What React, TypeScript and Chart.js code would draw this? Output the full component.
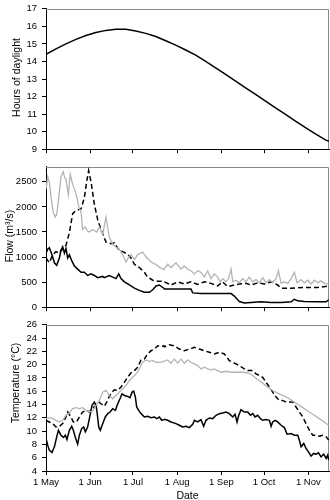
import React, { useEffect, useRef } from 'react';
import { Chart, registerables } from 'chart.js';
Chart.register(...registerables);

// ---- X axis (days since 1 May) ----
const monthTickDays = [0, 31, 61, 92, 123, 153, 184];
const monthTickLabels = ['1 May', '1 Jun', '1 Jul', '1 Aug', '1 Sep', '1 Oct', '1 Nov'];
const dayMax = 198.5;

// ---- Panel 1: hours of daylight ----
const daylightTicks = [9, 10, 11, 12, 13, 14, 15, 16, 17];
const daylightDays = [0, 7, 14, 21, 28, 35, 42, 49, 56, 63, 70, 77, 84, 91, 98, 105, 112, 119, 126, 133, 140, 147, 154, 161, 168, 175, 182, 189, 196, 198.5];
const daylightHours = [14.4, 14.72, 15.0, 15.26, 15.48, 15.65, 15.77, 15.83, 15.83, 15.73, 15.6, 15.42, 15.18, 14.93, 14.65, 14.36, 14.0, 13.64, 13.26, 12.88, 12.5, 12.12, 11.74, 11.36, 10.98, 10.6, 10.23, 9.87, 9.53, 9.45];

// ---- Panel 2: flow (m3/s) ----
const flowTicks = [0, 500, 1000, 1500, 2000, 2500];
const flowGrayDays = [0, 1.2, 2.3, 3.5, 5, 6.5, 7.5, 9, 10.5, 12, 13, 14, 15.7, 17, 18.7, 20.6, 22, 23, 24.6, 25.7, 27.6, 29, 30.4, 32.7, 35.6, 37.4, 39.8, 42.1, 43.5, 44.4, 46.8, 49, 51.5, 53.8, 56.1, 58, 59.6, 62, 64.3, 67.8, 70.2, 73.7, 77.2, 79.5, 82.6,
  85.3, 87.7, 91.2, 94.7, 97, 99.4, 101.7, 104.1, 106.4, 108.7, 111.1, 113.4, 115.7, 118.1, 120.4, 122.3, 123.9, 126.3, 128, 129.8, 131, 133.3, 135.6, 138, 140.3, 142.6, 145, 147.3, 149.7, 152, 154.3, 156.7, 159, 161.4, 163, 164.9, 167.2, 169.6, 171.9, 174.2, 176.1, 178.9, 181.2, 183.6, 185.9, 188.3, 190.6, 192.9, 195.3, 198.3];
const flowGrayValues = [2350, 2600, 2500, 2200, 1900, 1800, 1850, 2200, 2600, 2700, 2600, 2550, 2250, 2650, 2450, 2300, 2150, 2000, 1900, 1550, 1600, 1520, 1500, 1550, 1500, 1600, 1450, 1800, 1550, 1400, 1250, 1200, 1150, 1050, 900, 1000, 1050, 950, 1050, 1100, 1000, 900, 850, 800, 750,
  855, 791, 886, 760, 823, 760, 728, 665, 728, 696, 601, 728, 570, 665, 601, 506, 570, 506, 570, 760, 506, 538, 487, 570, 506, 601, 506, 551, 487, 589, 487, 551, 487, 570, 728, 475, 506, 475, 570, 696, 487, 551, 487, 538, 462, 538, 487, 525, 475, 462];
const flowDashDays = [0, 2.3, 4.7, 7, 9.4, 11.7, 14, 16.4, 18.7, 21.1, 24.6, 26.9, 28.5, 29.9, 31.6, 33.9, 36.3, 38.6, 42.1, 45.6, 48, 50.3, 53.8, 57.3, 59.6, 62, 65.5, 69, 71.3, 74.9, 77.2, 82.6,
  83, 87.7, 92.4, 97, 101.7, 106.4, 111.1, 115.7, 120.4, 123.9, 127.4, 132.1, 135.6, 140.3, 143.8, 148.5, 153.2, 157.9, 162.5, 164.9, 171.9, 181.2, 190.6, 198.3];
const flowDashValues = [981, 886, 1044, 1108, 1076, 1171, 1234, 1488, 1867, 1931, 1962, 2184, 2500, 2722, 2500, 2057, 1741, 1551, 1298, 1266, 1285, 1171, 1108, 1057, 981, 855, 791, 696, 601, 538, 519, 519,
  506, 443, 506, 462, 506, 456, 506, 475, 424, 506, 411, 443, 462, 475, 443, 487, 462, 506, 443, 380, 380, 392, 392, 424];
const flowBlackDays = [0, 1.2, 2.3, 4.2, 5.9, 7.5, 9.4, 10.5, 11.7, 12.9, 14, 15.2, 16.4, 18.2, 19.9, 22.2, 24.6, 26.9, 29.2, 31.6, 33.9, 36.3, 39.8, 40.9, 44.4, 46.8, 49.1, 51, 52.6, 55, 58.5, 62, 65.5, 69, 72.5, 74.9, 77.2, 79.5, 82.6,
  83, 101.7, 102.9, 108.7, 129.8, 132.1, 135.6, 139.1, 143.8, 150.8, 157.9, 164.9, 171.9, 174.2, 176.6, 181.2, 190.6, 196.5, 198.3];
const flowBlackValues = [1076, 1158, 1184, 1044, 886, 836, 981, 1139, 1203, 1076, 1171, 981, 1044, 918, 823, 760, 696, 696, 633, 665, 633, 589, 614, 589, 633, 601, 570, 665, 570, 506, 443, 380, 335, 298, 298, 348, 424, 443, 380,
  361, 361, 285, 272, 272, 222, 114, 82, 95, 108, 95, 95, 108, 158, 127, 114, 108, 108, 146];

// ---- Panel 3: temperature (°C) ----
const tempTicks = [4, 6, 8, 10, 12, 14, 16, 18, 20, 22, 24, 26];
const tempBlackDays = [0, 1.2, 2.3, 4.2, 5.9, 7.5, 8.7, 10.5, 12.2, 13.6, 14.7, 16.4, 18, 19.2, 20.6, 22.2, 23.4, 25, 26.4, 27.6, 29.2, 30.9, 32.3, 33.9, 35.1, 35.8, 37, 38.1, 39.8, 41.6, 43.3, 44.9, 46.8, 48.7, 50.3, 51.9, 53.3, 55, 57.3, 58.9, 60.4, 61.5, 62.7, 63.6, 65, 66.7, 69, 71.3, 73.7, 76, 77.7, 79.5, 81.2, 82.6,
  83, 85.3, 87.7, 91.2, 93.5, 95.9, 98.2, 100.5, 102.9, 104.1, 106.4, 108.7, 110.6, 112.2, 114.6, 116.9, 119.3, 121.6, 123.9, 126.3, 128.6, 131, 132.6, 134, 135.2, 136.8, 139.1, 141.5, 143.4, 145, 146.6, 148.5, 150.4, 152, 154.3, 156.7, 157.9, 159, 160.7, 162.5, 164.9, 167.2, 169.1, 171.9, 174.2, 176.6, 177.7, 178.9, 180.8, 182.4, 184.1, 185.9, 187.8, 189.4, 191.1, 192.9, 194.8, 196.5, 197.6, 198.3];
const tempBlackValues = [8.89, 7.89, 7.14, 6.79, 7.64, 9.14, 10.13, 9.39, 9.04, 9.39, 8.74, 10.13, 10.73, 10.13, 9.04, 8.04, 9.39, 10.38, 10.63, 9.89, 10.63, 12.38, 13.88, 14.37, 13.88, 12.88, 10.63, 10.13, 11.13, 12.13, 12.63, 12.88, 13.38, 13.13, 14.12, 14.87, 15.62, 15.37, 15.22, 15.02, 15.87, 16.02, 15.12, 13.63, 13.13, 12.63, 12.13, 12.23, 12.03, 12.13, 11.88, 12.13, 11.63, 11.73,
  11.78, 11.63, 11.38, 11.13, 10.88, 10.63, 10.73, 10.53, 11.03, 11.63, 11.38, 11.73, 10.73, 11.63, 11.98, 11.88, 12.38, 12.63, 12.73, 12.88, 12.63, 12.13, 12.53, 11.38, 12.38, 13.23, 12.88, 12.88, 12.38, 12.63, 12.13, 12.38, 11.88, 11.63, 11.73, 11.63, 10.73, 11.38, 11.63, 11.38, 10.88, 10.53, 9.54, 9.64, 9.39, 9.39, 8.64, 7.64, 8.14, 7.39, 6.89, 6.24, 6.64, 6.54, 6.74, 6.14, 6.54, 5.9, 6.39, 5.65];
const tempDashDays = [0, 2.3, 4.7, 7, 9.4, 11.7, 14, 15.2, 17.5, 19.2, 21.5, 23.4, 25.7, 28.1, 30.4, 32.3, 35.1, 37, 38.6, 40.9, 42.6, 44.4, 46.3, 48, 50.3, 52.6, 55, 57.3, 59.6, 62, 64.3, 66.7, 69, 71.3, 73.7, 76, 78.4, 80.7, 82.6,
  83, 86.5, 90, 93.5, 97, 100.5, 104.1, 107.6, 111.1, 114.6, 118.1, 121.6, 125.1, 128.6, 131, 133.3, 135.6, 139.1, 141.5, 145, 147.3, 149.7, 152, 154.3, 156.7, 159, 161.4, 163.7, 166, 168.4, 170.7, 173.1, 175.4, 177.7, 180.1, 182.4, 184.8, 187.1, 189.4, 191.8, 194.1, 196.5, 198.3];
const tempDashValues = [11.63, 11.38, 11.13, 10.63, 10.73, 11.13, 12.13, 12.88, 12.13, 11.38, 11.38, 12.13, 12.88, 13.13, 12.88, 13.38, 13.88, 14.37, 14.12, 13.73, 14.37, 15.22, 15.87, 16.22, 16.12, 16.62, 17.37, 18.11, 18.76, 19.11, 19.61, 20.71, 20.86, 21.61, 22.1, 22.35, 22.85, 22.7, 22.85,
  22.7, 23.0, 22.85, 22.35, 22.1, 22.35, 22.6, 22.35, 22.1, 21.86, 21.61, 21.86, 21.61, 20.61, 20.36, 20.11, 19.86, 19.36, 19.11, 19.11, 18.61, 18.36, 18.11, 17.37, 16.62, 15.87, 15.12, 14.62, 14.62, 14.37, 14.37, 14.37, 13.63, 12.88, 12.13, 11.13, 10.13, 9.39, 9.39, 9.24, 9.39, 9.14, 8.64];
const tempGrayDays = [0, 2.3, 4.7, 7, 9.4, 11.7, 14, 16.4, 18.7, 21.1, 23.4, 25.7, 28.1, 30.4, 32.7, 35.1, 37.4, 39.8, 42.1, 44.4, 46.8, 49.1, 51.5, 53.8, 56.1, 58.5, 60.8, 63.2, 65.5, 67.8, 70.2, 72.5, 74.9, 77.2, 79.5, 82.6,
  85.3, 87.7, 90, 92.4, 94.7, 97, 99.4, 101.7, 104.1, 106.4, 108.7, 111.1, 113.4, 115.7, 118.1, 120.4, 122.8, 126.3, 129.8, 134.5, 139.1, 142.6, 145, 148.5, 152, 155.5, 159, 162.5, 166, 169.6, 173.1, 176.6, 180.1, 183.6, 187.1, 190.6, 194.1, 198.3];
const tempGrayValues = [11.88, 12.03, 11.88, 11.63, 11.38, 11.63, 12.38, 12.73, 13.38, 13.53, 13.38, 13.53, 13.13, 12.88, 13.03, 13.88, 14.62, 15.87, 16.12, 15.37, 14.87, 15.37, 15.87, 16.37, 16.87, 17.62, 18.11, 18.61, 19.36, 20.36, 20.71, 20.51, 20.61, 20.36, 20.36, 20.51,
  20.71, 20.21, 20.86, 20.21, 20.86, 20.21, 20.71, 20.36, 20.11, 19.86, 19.36, 19.61, 19.36, 19.21, 19.36, 19.11, 18.86, 19.01, 18.86, 18.86, 18.86, 18.71, 18.36, 17.72, 17.22, 16.62, 16.12, 15.72, 15.37, 15.02, 14.52, 14.02, 13.53, 13.03, 12.53, 12.03, 11.53, 10.88];

const FONT = "'Liberation Sans', Arial, Helvetica, sans-serif";
const GRAY = '#b4b4b4';

const pts = (xs: number[], ys: number[]) => xs.map((x, i) => ({ x, y: ys[i] }));

const framePlugin = {
  id: 'frame',
  beforeDatasetsDraw(chart: any) {
    const { ctx, chartArea: a } = chart;
    ctx.save();
    ctx.strokeStyle = '#8a8a8a';
    ctx.lineWidth = 1;
    ctx.beginPath();
    ctx.moveTo(Math.round(a.left), Math.round(a.top) + 0.5);
    ctx.lineTo(Math.round(a.right) - 0.5, Math.round(a.top) + 0.5);
    ctx.lineTo(Math.round(a.right) - 0.5, Math.round(a.bottom));
    ctx.stroke();
    ctx.restore();
  },
};

// Draws the rotated y-axis title at a given centre position (canvas coordinates).
const makeYTitlePlugin = (text: string, cx: number, cy: number) => ({
  id: 'ytitle',
  afterDraw(chart: any) {
    const { ctx } = chart;
    ctx.save();
    ctx.translate(cx, cy);
    ctx.rotate(-Math.PI / 2);
    ctx.fillStyle = '#000';
    ctx.font = `10.5px ${FONT}`;
    ctx.textAlign = 'center';
    ctx.textBaseline = 'middle';
    ctx.fillText(text, 0, 0);
    ctx.restore();
  },
});

type PanelProps = {
  top: number;
  height: number;
  padTop: number;
  xHeight: number;
  showX: boolean;
  yTitle: string;
  titleX: number;
  titleY: number;
  yMin: number;
  yMax: number;
  yTicks: number[];
  datasets: any[];
};

function Panel(p: PanelProps) {
  const ref = useRef<HTMLCanvasElement>(null);
  useEffect(() => {
    if (!ref.current) return;
    const chart = new Chart(ref.current, {
      type: 'line',
      data: { datasets: p.datasets },
      options: {
        responsive: false,
        animation: false,
        layout: { padding: { top: p.padTop, right: 1, left: 0, bottom: 0 } },
        plugins: { legend: { display: false }, tooltip: { enabled: false } },
        elements: { point: { radius: 0 }, line: { tension: 0 } },
        scales: {
          x: {
            type: 'linear',
            min: 0,
            max: dayMax,
            afterBuildTicks: (s: any) => {
              s.ticks = monthTickDays.map((v) => ({ value: v }));
            },
            afterFit: (s: any) => {
              s.height = p.xHeight;
            },
            ticks: {
              display: p.showX,
              autoSkip: false,
              maxRotation: 0,
              padding: 2,
              color: '#000',
              font: { family: FONT, size: 9.5 },
              callback: (_v: any, i: number) => monthTickLabels[i],
            },
            grid: { display: true, drawOnChartArea: false, drawTicks: true, tickLength: 4, color: '#000' },
            border: { display: true, color: '#000', width: 1 },
            title: {
              display: p.showX,
              text: 'Date',
              color: '#000',
              font: { family: FONT, size: 10.5 },
              padding: { top: 0, bottom: -2 },
            },
          },
          y: {
            type: 'linear',
            min: p.yMin,
            max: p.yMax,
            afterBuildTicks: (s: any) => {
              s.ticks = p.yTicks.map((v) => ({ value: v }));
            },
            afterFit: (s: any) => {
              s.width = 46;
            },
            ticks: {
              padding: 5,
              color: '#000',
              font: { family: FONT, size: 9.5, lineHeight: 0.8 },
              callback: (v: any) => String(v),
            },
            grid: { display: true, drawOnChartArea: false, drawTicks: true, tickLength: 4, color: '#000' },
            border: { display: true, color: '#000', width: 1 },
            title: { display: false },
          },
        },
      } as any,
      plugins: [framePlugin, makeYTitlePlugin(p.yTitle, p.titleX, p.titleY)],
    });
    return () => chart.destroy();
  }, []);
  return (
    <canvas
      ref={ref}
      width={330}
      height={p.height}
      style={{ position: 'absolute', left: 0, top: p.top, width: 330, height: p.height }}
    />
  );
}

const solid = (data: any[]) => ({ data, borderColor: '#000', borderWidth: 1.5, pointRadius: 0, fill: false });
const dashed = (data: any[]) => ({ data, borderColor: '#000', borderWidth: 1.5, borderDash: [5, 3], pointRadius: 0, fill: false });
const gray = (data: any[]) => ({ data, borderColor: GRAY, borderWidth: 1.3, pointRadius: 0, fill: false });

export default function App() {
  return (
    <div style={{ position: 'absolute', left: 0, top: 0, width: 330, height: 500, overflow: 'hidden', background: '#fff' }}>
      <Panel
        top={0}
        height={158}
        padTop={4}
        xHeight={7}
        showX={false}
        yTitle="Hours of daylight"
        titleX={17}
        titleY={77.5}
        yMin={9}
        yMax={17}
        yTicks={daylightTicks}
        datasets={[solid(pts(daylightDays, daylightHours))]}
      />
      <Panel
        top={158}
        height={158}
        padTop={4.3}
        xHeight={6}
        showX={false}
        yTitle="Flow (m³/s)"
        titleX={10.5}
        titleY={78}
        yMin={0}
        yMax={2800}
        yTicks={flowTicks}
        datasets={[
          gray(pts(flowGrayDays, flowGrayValues)),
          dashed(pts(flowDashDays, flowDashValues)),
          solid(pts(flowBlackDays, flowBlackValues)),
        ]}
      />
      <Panel
        top={316}
        height={184}
        padTop={8}
        xHeight={29}
        showX={true}
        yTitle="Temperature (°C)"
        titleX={16.5}
        titleY={67}
        yMin={4}
        yMax={26}
        yTicks={tempTicks}
        datasets={[
          gray(pts(tempGrayDays, tempGrayValues)),
          dashed(pts(tempDashDays, tempDashValues)),
          solid(pts(tempBlackDays, tempBlackValues)),
        ]}
      />
    </div>
  );
}
